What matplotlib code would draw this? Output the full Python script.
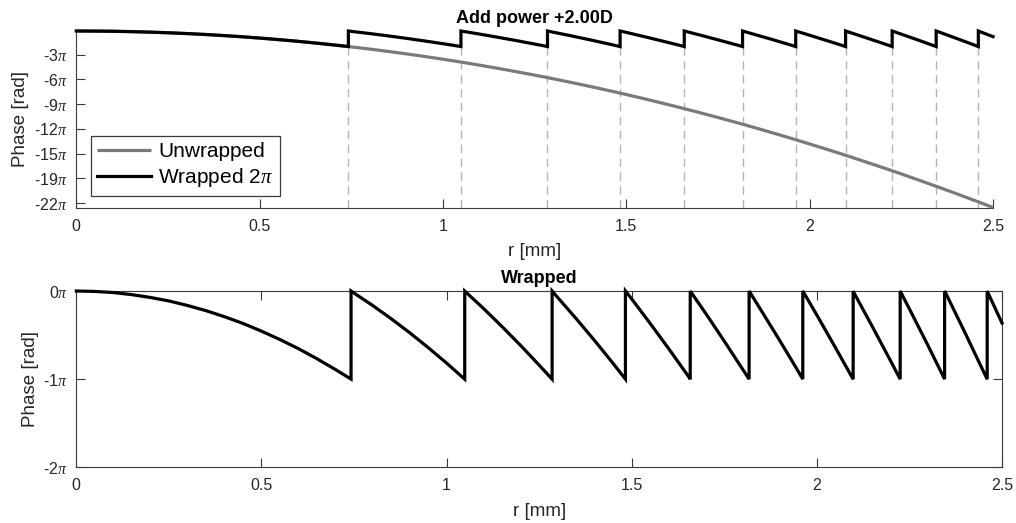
import numpy as np
import matplotlib
matplotlib.use("Agg")
import matplotlib.pyplot as plt

plt.rcParams['font.family'] = ['Liberation Sans', 'DejaVu Sans']
plt.rcParams['mathtext.fontset'] = 'custom'
plt.rcParams['mathtext.rm'] = 'Liberation Sans'
plt.rcParams['mathtext.it'] = 'Liberation Serif:italic'
plt.rcParams['axes.unicode_minus'] = False

# ---- data ----
r_mm = [0.0, 0.05, 0.1, 0.15, 0.2, 0.25, 0.3, 0.35, 0.4, 0.45, 0.5, 0.55, 0.6, 0.65,
        0.7, 0.742, 0.75, 0.8, 0.85, 0.9, 0.95, 1.0, 1.049, 1.1, 1.15, 1.2, 1.25,
        1.285, 1.3, 1.35, 1.4, 1.45, 1.483, 1.5, 1.55, 1.6, 1.65, 1.658, 1.7, 1.75,
        1.8, 1.817, 1.85, 1.9, 1.95, 1.962, 2.0, 2.05, 2.098, 2.1, 2.15, 2.2, 2.225,
        2.25, 2.3, 2.345, 2.35, 2.4, 2.45, 2.46, 2.5]
phase_rad = [-0.40, -0.43, -0.51, -0.66, -0.86, -1.11, -1.43, -1.80, -2.23, -2.71,
             -3.26, -3.86, -4.51, -5.23, -6.00, -6.68, -6.83, -7.71, -8.65, -9.65,
             -10.71, -11.82, -12.97, -14.22, -15.51, -16.85, -18.25, -19.25, -19.71,
             -21.22, -22.79, -24.42, -25.53, -26.10, -27.85, -29.65, -31.50, -31.82,
             -33.42, -35.39, -37.41, -38.10, -39.50, -41.64, -43.84, -44.38, -46.10,
             -48.41, -50.67, -50.78, -53.21, -55.69, -56.95, -58.23, -60.83, -63.23,
             -63.49, -66.20, -68.97, -69.52, -71.80]
wrap_r = [0.742, 1.049, 1.285, 1.483, 1.658, 1.817, 1.962, 2.098, 2.225, 2.345, 2.46]

x_ticks = [0, 0.5, 1, 1.5, 2, 2.5]
x_tick_labels = ['0', '0.5', '1', '1.5', '2', '2.5']
top_yticks = [-70, -60, -50, -40, -30, -20, -10]
top_ytick_labels = ['-22', '-19', '-15', '-12', '-9', '-6', '-3']
bot_yticks = [-2, -1, 0]
bot_ytick_labels = ['-2', '-1', '0']

# ---- wrapping (segment offsets of 2*pi) ----
r = np.array(r_mm)
ph = np.array(phase_rad)
edges = [r[0]] + wrap_r + [r[-1]]
wx, wy = [], []
for k in range(len(edges) - 1):
    m = (r >= edges[k] - 1e-9) & (r <= edges[k + 1] + 1e-9)
    wx.append(r[m])
    wy.append(ph[m] + 2 * np.pi * k)
wx = np.concatenate(wx)
wy = np.concatenate(wy)
dip = ph[0] - 2 * np.pi
bot_y = (wy - ph[0]) / (2 * np.pi)

fig = plt.figure(figsize=(10.16, 5.23), dpi=100)
axc = '#3a3a3a'
txtc = '#262626'
gray = '#7a7a7a'

def pi_labels(lst):
    return [s + r'$\pi$' for s in lst]

# ---- top axes ----
ax1 = fig.add_axes([76.3 / 1016, 1 - 207.5 / 523, (993 - 76.3) / 1016, 176.5 / 523])
ax1.vlines(wrap_r, ph[-1], dip, colors='#b4b4b4', linestyles=(0, (6, 4)), linewidth=1.0)
ax1.plot(r, ph, color=gray, lw=2.3, label='Unwrapped', clip_on=False, zorder=3,
         solid_capstyle='butt')
ax1.plot(wx, wy, color='black', lw=2.3, label=r'Wrapped 2$\pi$', clip_on=False, zorder=4,
         solid_joinstyle='miter')
ax1.set_xlim(0, 2.5)
ax1.set_ylim(ph[-1], ph[0])
ax1.set_xticks(x_ticks)
ax1.set_xticklabels(x_tick_labels)
ax1.set_yticks(top_yticks)
ax1.set_yticklabels(pi_labels(top_ytick_labels))
ax1.spines['top'].set_visible(False)
ax1.spines['right'].set_visible(False)
ax1.set_title('Add power +2.00D', fontsize=13, fontweight='bold', pad=6, color='black')
ax1.set_xlabel('r [mm]', fontsize=13.5, color=txtc, labelpad=7)
ax1.set_ylabel('Phase [rad]', fontsize=13.5, color=txtc)
ax1.yaxis.set_label_coords(-0.0516, 0.5)
leg = ax1.legend(loc='upper left', bbox_to_anchor=(90.7 / 1016, 1 - 136 / 523),
                 bbox_transform=fig.transFigure, fontsize=15, frameon=True,
                 fancybox=False, framealpha=1, edgecolor=axc, handlelength=2.6,
                 handletextpad=0.35, borderpad=0.3, labelspacing=0.25,
                 borderaxespad=0)
leg.get_frame().set_linewidth(0.9)
for t in leg.get_texts():
    t.set_color('black')

# ---- bottom axes ----
ax2 = fig.add_axes([76.3 / 1016, 1 - 467.3 / 523, (1002 - 76.3) / 1016, 176.3 / 523])
ax2.plot(wx, bot_y, color='black', lw=2.3, clip_on=False, zorder=4, solid_joinstyle='miter')
ax2.set_xlim(0, 2.5)
ax2.set_ylim(-2, 0)
ax2.set_xticks(x_ticks)
ax2.set_xticklabels(x_tick_labels)
ax2.set_yticks(bot_yticks)
ax2.set_yticklabels(pi_labels(bot_ytick_labels))
ax2.set_title('Wrapped', fontsize=13, fontweight='bold', pad=6, color='black')
ax2.set_xlabel('r [mm]', fontsize=13.5, color=txtc, labelpad=7)
ax2.set_ylabel('Phase [rad]', fontsize=13.5, color=txtc)
ax2.yaxis.set_label_coords(-0.040, 0.5)

for ax in (ax1, ax2):
    for s in ax.spines.values():
        s.set_color(axc)
        s.set_linewidth(0.8)
    ax.tick_params(direction='in', length=6.5, width=0.8, colors=axc,
                   labelcolor=txtc, labelsize=11.5, pad=6)
    ax.tick_params(axis='x', pad=8)
ax2.tick_params(top=True, right=True)

fig.savefig('out.png', dpi=100)
